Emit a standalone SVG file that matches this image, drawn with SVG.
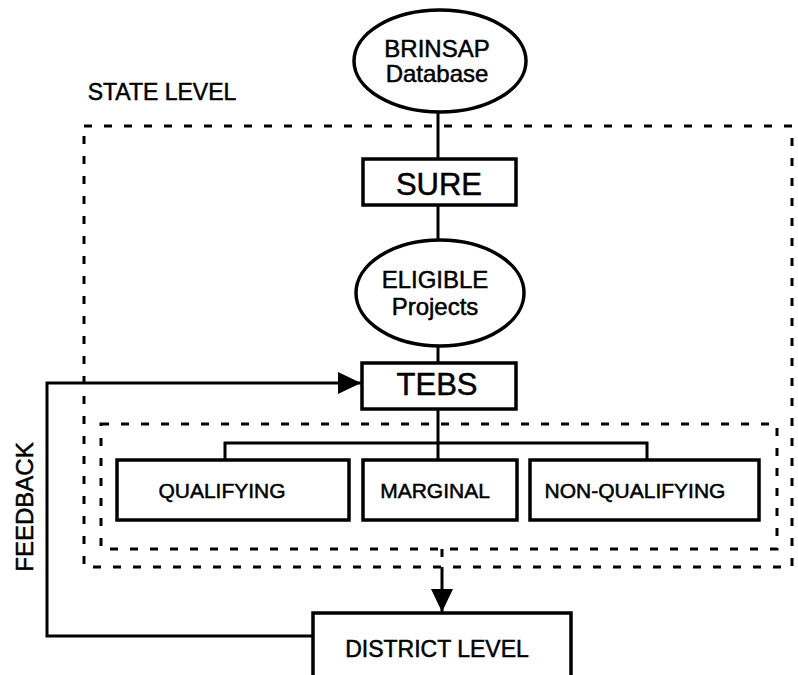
<svg xmlns="http://www.w3.org/2000/svg" width="798" height="675" viewBox="0 0 798 675">
<style>
.b{fill:#fff;stroke:#000;stroke-width:3.5}
.t{font-family:"Liberation Sans",Arial,sans-serif;fill:#000;stroke:#000;stroke-width:0.5;text-anchor:middle}
.d{fill:none;stroke:#000;stroke-width:3;stroke-dasharray:8 12}
.c{fill:none;stroke:#000;stroke-width:3}
</style>
<defs>
<marker id="ah" markerWidth="24" markerHeight="24" refX="23" refY="11" orient="auto" markerUnits="userSpaceOnUse">
<path d="M0,0 L23,11 L0,22 Z" fill="#000"/>
</marker>
</defs>
<rect x="0" y="0" width="798" height="675" fill="#fff"/>
<g id="state-level">
<rect class="d" x="84" y="126" width="708" height="441"/>
<text class="t" x="162" y="100" font-size="23">STATE LEVEL</text>
</g>
<g id="tebs-results">
<rect class="d" x="101" y="424" width="676" height="125"/>
</g>
<g id="connectors">
<line class="c" x1="438" y1="113" x2="438" y2="160"/>
<line class="c" x1="438" y1="205" x2="438" y2="241"/>
<line class="c" x1="438" y1="346" x2="438" y2="364"/>
<line class="c" x1="438" y1="409" x2="438" y2="443"/>
<polyline class="c" points="225,461 225,443 647,443 647,461"/>
<line class="c" x1="438" y1="443" x2="438" y2="461"/>
<line class="d" x1="442" y1="549" x2="442" y2="567"/>
<line class="c" x1="442" y1="567" x2="442" y2="612" marker-end="url(#ah)"/>
<polyline class="c" points="313,636 47,636 47,383 361,383" marker-end="url(#ah)"/>
<text class="t" font-size="24" transform="translate(33,507) rotate(-90)">FEEDBACK</text>
</g>
<g id="brinsap">
<ellipse class="b" cx="440" cy="61" rx="86" ry="51"/>
<text class="t" x="437" y="57" font-size="24">BRINSAP</text>
<text class="t" x="437" y="82" font-size="24">Database</text>
</g>
<g id="sure">
<rect class="b" x="363" y="159" width="153" height="46"/>
<text class="t" x="439" y="195" font-size="31">SURE</text>
</g>
<g id="eligible">
<ellipse class="b" cx="440" cy="293" rx="84" ry="53"/>
<text class="t" x="435" y="288" font-size="24">ELIGIBLE</text>
<text class="t" x="435" y="315" font-size="24">Projects</text>
</g>
<g id="tebs">
<rect class="b" x="362" y="363" width="154" height="46"/>
<text class="t" x="437" y="395" font-size="31">TEBS</text>
</g>
<g id="qualifying">
<rect class="b" x="117" y="460" width="232" height="60"/>
<text class="t" x="222" y="498" font-size="21">QUALIFYING</text>
</g>
<g id="marginal">
<rect class="b" x="363" y="460" width="154" height="60"/>
<text class="t" x="435" y="498" font-size="21">MARGINAL</text>
</g>
<g id="non-qualifying">
<rect class="b" x="530" y="460" width="229" height="60"/>
<text class="t" x="635" y="498" font-size="21">NON-QUALIFYING</text>
</g>
<g id="district">
<rect class="b" x="313" y="613" width="258" height="80"/>
<text class="t" x="437" y="657" font-size="23">DISTRICT LEVEL</text>
</g>
</svg>
